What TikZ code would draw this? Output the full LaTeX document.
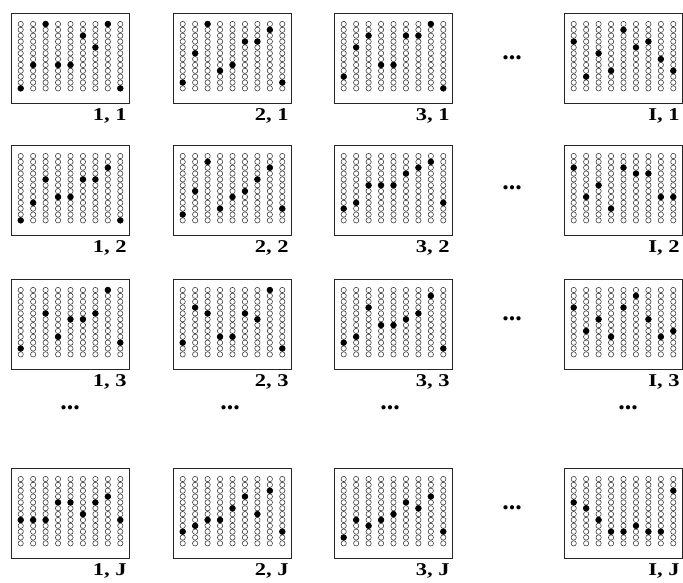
\documentclass[tikz,border=0pt]{standalone}
\usepackage{fontspec}
\setmainfont{Liberation Serif}
\usetikzlibrary{positioning}

\tikzset{
  frame/.style={draw=black!85, line width=0.8pt, minimum width=118pt, minimum height=90pt, inner sep=0pt, anchor=north west},
  hole/.style={draw=black!80, line width=0.55pt},
  bead/.style={fill=black},
  idx/.style={font=\bfseries\fontsize{18}{18}\selectfont, inner sep=0pt},
  gap/.style={font=\bfseries\fontsize{26}{26}\selectfont, inner sep=0pt}
}

% one sheet: name, left, top, filled row of each column, label
\newcommand{\sheet}[5]{%
  \node[frame] (#1) at (#2,#3) {};
  \foreach \hit [count=\k] in {#4} {
    \pgfmathsetmacro\cx{#2+9.7+(\k-1)*12.45}
    \foreach \r in {1,...,12}
      \draw[hole] (\cx,{#3+11+(\r-1)*5.85}) circle[radius=2.65pt];
    \ifnum\hit>0
      \fill[bead] (\cx,{#3+11+(\hit-1)*5.85}) circle[radius=3.2pt];
    \fi
  }
  \node[idx, below left=5pt and 3pt of #1.south east] (#1-lab) {\scalebox{1.25}[1]{#5}};
}

\begin{document}
\begin{tikzpicture}[x=1pt, y=-1pt]
  \useasboundingbox (0,0) rectangle (683,582);

  % row 1
  \sheet{s11}{11}{13}{12,8,1,8,8,3,5,1,12}{1, 1}
  \sheet{s21}{173}{13}{11,6,1,9,8,4,4,2,11}{2, 1}
  \sheet{s31}{334}{13}{10,5,3,8,8,3,3,1,12}{3, 1}
  \sheet{sI1}{564}{13}{4,10,6,9,2,5,4,7,9}{I, 1}

  % row 2
  \sheet{s12}{11}{145}{12,9,5,8,8,5,5,3,12}{1, 2}
  \sheet{s22}{173}{145}{11,7,2,10,8,7,5,3,10}{2, 2}
  \sheet{s32}{334}{145}{10,9,6,6,6,4,3,2,9}{3, 2}
  \sheet{sI2}{564}{145}{3,8,6,10,3,4,4,8,8}{I, 2}

  % row 3
  \sheet{s13}{11}{279}{11,0,5,9,6,6,5,1,10}{1, 3}
  \sheet{s23}{173}{279}{10,4,5,9,9,5,6,1,11}{2, 3}
  \sheet{s33}{334}{279}{10,9,4,7,7,6,5,2,11}{3, 3}
  \sheet{sI3}{564}{279}{4,8,6,9,4,2,6,9,8}{I, 3}

  % row J
  \sheet{s1J}{11}{468}{8,8,8,5,5,7,5,4,8}{1, J}
  \sheet{s2J}{173}{468}{10,9,8,8,6,4,7,3,10}{2, J}
  \sheet{s3J}{334}{468}{11,8,9,8,7,5,6,4,10}{3, J}
  \sheet{sIJ}{564}{468}{5,6,8,10,10,9,10,10,3}{I, J}

  % skipped columns
  \node[gap] (h1) at (512,58) {...};
  \node[gap] (h2) at (512,188) {...};
  \node[gap] (h3) at (512,319) {...};
  \node[gap] (hJ) at (512,508) {...};

  % skipped rows
  \node[gap] (v1) at (70,408) {...};
  \node[gap] (v2) at (230,408) {...};
  \node[gap] (v3) at (390,408) {...};
  \node[gap] (vI) at (628,408) {...};
\end{tikzpicture}
\end{document}
